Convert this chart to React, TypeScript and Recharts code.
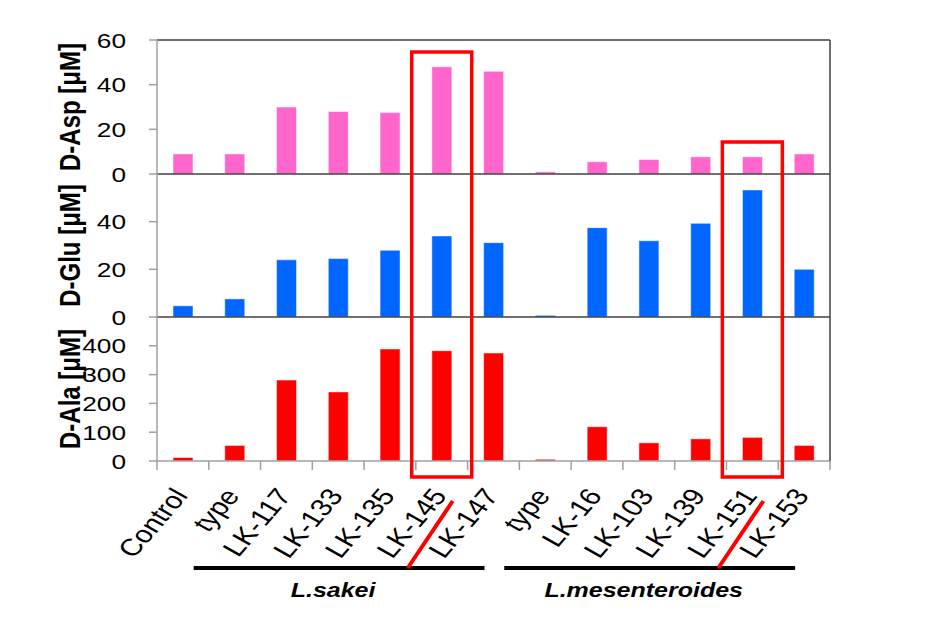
import { BarChart, Bar, XAxis, YAxis, ReferenceLine } from "recharts";

// strains on the x axis (two "type" entries, so rows are keyed by index)
const categories = [
  "Control", "type", "LK-117", "LK-133", "LK-135", "LK-145", "LK-147",
  "type", "LK-16", "LK-103", "LK-139", "LK-151", "LK-153",
];

// D-amino acid concentrations [uM]
const dAsp = [9, 9, 30, 28, 27.5, 48, 46, 1, 5.5, 6.5, 7.7, 7.7, 9];
const dGlu = [4.7, 7.6, 24, 24.5, 28, 34, 31.2, 0.7, 37.5, 32, 39.3, 53.3, 20];
const dAla = [12, 54, 281, 240, 389, 383, 375, 6, 119, 63, 77, 82, 54];

const aspTicks = [0, 20, 40, 60];
const gluTicks = [0, 20, 40];
const alaTicks = [0, 100, 200, 300, 400];

const groups = [
  { name: "L.sakei", from: 1, to: 6 },
  { name: "L.mesenteroides", from: 7, to: 12 },
];
const highlights = [
  { index: 5, top: 52 },
  { index: 11, top: 142 },
];

const W = 940;
const H = 638;
const PL = 157;
const PR = 830;
const BAND = (PR - PL) / categories.length;
const X_H = 30;
const FONT = "'Liberation Sans', Arial, sans-serif";
const SX = 1.25; // the source picture is stretched horizontally
const DARK = "#404040";
const GRAY = "#a0a0a0";

const PANELS = {
  asp: { top: 40, bottom: 174 },
  glu: { top: 174, bottom: 317 },
  ala: { top: 317, bottom: 461 },
};

const cx = (i: number) => PL + BAND * (i + 0.5);

const YTick = (props: any) => {
  const { x, y, payload } = props;
  return (
    <g transform={`translate(${x},${y}) scale(${SX},1)`}>
      <text textAnchor="end" dy="0.36em" fontSize={21} fontFamily={FONT} fill="#000">
        {payload.value}
      </text>
    </g>
  );
};

const CategoryTick = (props: any) => {
  const { x, payload } = props;
  const i = Number(payload.value);
  const y0 = PANELS.ala.bottom;
  const ax = x + 6;
  const ay = 496;
  return (
    <g>
      <line x1={x - BAND / 2} x2={x - BAND / 2} y1={y0} y2={y0 + 9} stroke={GRAY} strokeWidth={1.5} />
      {i === categories.length - 1 && (
        <line x1={x + BAND / 2} x2={x + BAND / 2} y1={y0} y2={y0 + 9} stroke={GRAY} strokeWidth={1.5} />
      )}
      <text
        transform={`translate(${ax},${ay}) scale(${SX},1) rotate(-55)`}
        textAnchor="end"
        fontSize={24}
        fontFamily={FONT}
        fill="#000"
      >
        {categories[i]}
      </text>
    </g>
  );
};

type PanelProps = {
  values: number[];
  color: string;
  max: number;
  ticks: number[];
  top: number;
  bottom: number;
  first?: boolean;
  last?: boolean;
};

const Panel = ({ values, color, max, ticks, top, bottom, first, last }: PanelProps) => {
  const data = categories.map((_, i) => ({ key: String(i), v: values[i] }));
  return (
    <div style={{ position: "absolute", left: 0, top: 0 }}>
      <BarChart
        width={W}
        height={H}
        data={data}
        barSize={20}
        margin={{ top, right: W - PR - 1, bottom: H - bottom - X_H, left: 0 }}
      >
        <XAxis
          dataKey="key"
          height={X_H}
          interval={0}
          tickLine={false}
          axisLine={{ stroke: last ? GRAY : DARK, strokeWidth: 1.5 }}
          tick={last ? <CategoryTick /> : false}
        />
        <YAxis
          yAxisId="l"
          width={PL}
          domain={[0, max]}
          ticks={ticks}
          interval={0}
          allowDataOverflow
          tickSize={8}
          tickMargin={23}
          axisLine={{ stroke: GRAY, strokeWidth: 1.5 }}
          tickLine={{ stroke: GRAY, strokeWidth: 1.5 }}
          tick={<YTick />}
        />
        <YAxis
          yAxisId="r"
          orientation="right"
          width={1}
          domain={[0, 1]}
          tick={false}
          tickLine={false}
          axisLine={{ stroke: DARK, strokeWidth: 1.5 }}
        />
        {first && <ReferenceLine yAxisId="l" y={max} stroke={DARK} strokeWidth={1.5} />}
        <Bar
          yAxisId="l"
          dataKey="v"
          fill={color}
          stroke="#ffffff"
          strokeOpacity={0.5}
          isAnimationActive={false}
        />
      </BarChart>
    </div>
  );
};

const titles = [
  { text: "D-Asp [μM]", panel: PANELS.asp },
  { text: "D-Glu [μM]", panel: PANELS.glu },
  { text: "D-Ala [μM]", panel: PANELS.ala },
];

export default function App() {
  return (
    <div
      style={{
        position: "absolute",
        left: 0,
        top: 0,
        width: W,
        height: H,
        background: "#fff",
        overflow: "hidden",
      }}
    >
      <Panel values={dAsp} color="#FF66CC" max={60} ticks={aspTicks} {...PANELS.asp} first />
      <Panel values={dGlu} color="#0066FF" max={60} ticks={gluTicks} {...PANELS.glu} />
      <Panel values={dAla} color="#FF0000" max={500} ticks={alaTicks} {...PANELS.ala} last />

      <svg width={W} height={H} style={{ position: "absolute", left: 0, top: 0, pointerEvents: "none" }}>
        {titles.map((t) => (
          <text
            key={t.text}
            transform={`translate(80,${(t.panel.top + t.panel.bottom) / 2}) scale(${SX},1) rotate(-90)`}
            textAnchor="middle"
            fontSize={24}
            fontWeight="bold"
            fontFamily={FONT}
            fill="#000"
          >
            {t.text}
          </text>
        ))}

        {highlights.map((h) => (
          <rect
            key={h.index}
            x={cx(h.index) - 30}
            y={h.top}
            width={60}
            height={477 - h.top}
            fill="none"
            stroke="#FF0000"
            strokeWidth={3.5}
          />
        ))}

        {groups.map((g) => {
          const x1 = cx(g.from) - 41;
          const x2 = cx(g.to) - 9;
          return (
            <g key={g.name}>
              <line x1={x1} x2={x2} y1={568} y2={568} stroke="#000" strokeWidth={4} />
              <text
                transform={`translate(${(x1 + x2) / 2 - 6},597) scale(${SX},1)`}
                textAnchor="middle"
                fontSize={20}
                fontWeight="bold"
                fontStyle="italic"
                fontFamily={FONT}
                fill="#000"
              >
                {g.name}
              </text>
            </g>
          );
        })}

        {highlights.map((h) => (
          <line
            key={`s${h.index}`}
            x1={cx(h.index) - 34}
            y1={568}
            x2={cx(h.index) + 11}
            y2={501}
            stroke="#FF0000"
            strokeWidth={4}
          />
        ))}
      </svg>
    </div>
  );
}
